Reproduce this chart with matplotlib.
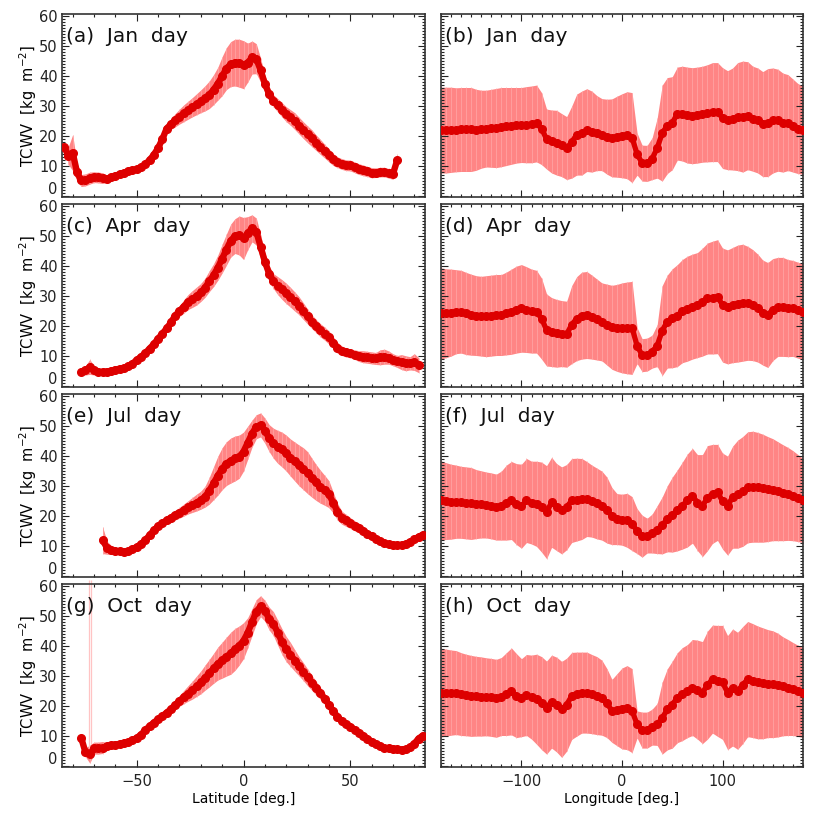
import numpy as np
import matplotlib
matplotlib.use("Agg")
import matplotlib.pyplot as plt
from matplotlib.ticker import MultipleLocator

nan = np.nan

# ---------------- data ----------------
lat = np.arange(-84, 85, 2)          # 85 points
lon = np.arange(-180, 181, 5)        # 73 points
ytick_values = [0, 10, 20, 30, 40, 50, 60]

jan_lat_mean = [16.4, 13.5, 14.5, 8.0, 5.2, 5.4, 6.0, 6.3, 6.2, 6.0,
                5.7, 6.2, 6.8, 7.3, 7.8, 8.2, 8.6, 8.9, 9.6, 10.6,
                12.0, 13.8, 16.0, 19.0, 22.5, 24.0, 25.3, 26.5, 27.6, 28.6,
                29.6, 30.6, 31.6, 32.6, 33.8, 35.5, 37.5, 40.0, 42.5, 44.0,
                44.5, 44.3, 43.8, 44.5, 46.2, 45.8, 42.0, 37.5, 34.0, 31.8,
                30.3, 28.8, 27.3, 26.2, 25.0, 23.5, 22.0, 20.6, 19.3, 17.8,
                16.4, 15.0, 13.6, 12.2, 11.3, 10.7, 10.3, 10.2, 9.6, 9.0,
                8.6, 8.2, 7.8, 7.8, 8.0, 8.0, 7.6, 7.4, 12.0, nan,
                nan, nan, nan, nan, nan]
jan_lat_std = [0.5, 3.0, 6.0, 3.0, 2.0, 2.0, 2.0, 1.8, 1.8, 1.8,
               1.2, 1.0, 0.8, 0.7, 0.7, 0.7, 0.7, 0.8, 0.8, 0.8,
               0.8, 0.9, 1.0, 1.2, 1.5, 1.8, 2.2, 2.5, 2.8, 3.0,
               3.2, 3.5, 3.8, 4.2, 4.6, 5.0, 5.5, 6.5, 7.0, 7.5,
               7.8, 8.0, 8.0, 6.5, 5.5, 5.0, 4.0, 2.8, 2.2, 2.0,
               2.2, 2.4, 2.5, 2.6, 2.8, 2.8, 2.8, 2.8, 2.8, 2.6,
               2.5, 2.3, 2.2, 2.0, 1.8, 1.8, 1.8, 1.8, 1.8, 1.8,
               1.8, 1.7, 1.7, 1.6, 1.6, 1.6, 1.6, 1.8, 2.0, nan,
               nan, nan, nan, nan, nan]

apr_lat_mean = [nan, nan, nan, nan, 4.8, 5.2, 6.4, 5.2, 4.8, 4.7,
                4.8, 5.1, 5.5, 5.8, 6.1, 6.6, 7.5, 8.7, 9.8, 11.0,
                12.5, 14.0, 15.8, 17.5, 19.2, 21.2, 23.5, 25.0, 26.5, 28.0,
                29.0, 30.0, 31.2, 32.8, 35.0, 37.0, 39.5, 42.5, 45.5, 48.5,
                50.0, 50.2, 49.2, 51.0, 52.6, 51.5, 46.5, 41.5, 37.5, 35.0,
                33.5, 32.2, 30.9, 29.6, 28.2, 26.8, 25.0, 23.2, 21.5, 20.0,
                18.6, 17.5, 16.2, 14.5, 12.8, 11.8, 11.2, 10.9, 10.5, 10.0,
                9.8, 9.6, 9.4, 9.2, 9.6, 9.8, 9.5, 8.8, 8.2, 8.0,
                7.6, 7.6, 8.0, 7.0, nan]
apr_lat_std = [nan, nan, nan, nan, 1.0, 1.5, 2.5, 1.5, 1.0, 0.8,
               0.7, 0.6, 0.6, 0.6, 0.6, 0.6, 0.6, 0.7, 0.7, 0.8,
               0.8, 0.9, 1.0, 1.1, 1.2, 1.3, 1.5, 1.8, 2.2, 2.5,
               2.8, 3.0, 3.0, 3.2, 3.5, 3.8, 4.2, 4.8, 5.2, 5.5,
               5.8, 6.5, 7.0, 5.5, 4.5, 4.5, 4.0, 3.0, 2.6, 2.5,
               3.0, 3.3, 3.4, 3.3, 3.2, 3.0, 2.8, 2.5, 2.3, 2.2,
               2.2, 2.2, 2.2, 2.0, 1.8, 1.6, 1.5, 1.5, 1.6, 1.8,
               2.0, 2.0, 2.0, 2.0, 2.5, 2.5, 2.2, 2.0, 2.0, 2.5,
               2.5, 2.2, 2.8, 2.5, nan]

jul_lat_mean = [nan, nan, nan, nan, nan, nan, nan, nan, nan, 12.0,
                9.5, 8.7, 8.3, 8.2, 8.1, 8.4, 9.0, 9.7, 10.7, 12.0,
                13.6, 15.3, 16.6, 17.7, 18.6, 19.5, 20.3, 21.1, 22.0, 22.9,
                23.7, 24.5, 25.3, 26.5, 28.5, 31.0, 33.5, 35.8, 37.5, 38.5,
                39.2, 39.8, 41.5, 44.5, 47.5, 49.8, 50.4, 48.5, 46.0, 44.3,
                43.1, 42.2, 41.0, 39.5, 38.2, 36.9, 35.8, 34.5, 32.8, 31.2,
                29.8, 28.6, 27.3, 24.5, 21.5, 19.5, 18.6, 17.7, 16.8, 16.0,
                15.1, 14.1, 13.3, 12.5, 11.7, 11.0, 10.6, 10.4, 10.3, 10.4,
                10.8, 11.4, 12.2, 13.1, 13.8]
jul_lat_std = [nan, nan, nan, nan, nan, nan, nan, nan, nan, 4.5,
               2.2, 1.5, 1.2, 1.0, 1.0, 0.9, 0.9, 0.9, 1.0, 1.0,
               1.0, 1.0, 1.1, 1.2, 1.3, 1.5, 1.6, 1.8, 2.0, 2.2,
               2.5, 2.8, 3.0, 3.5, 4.5, 5.5, 6.5, 7.0, 7.3, 7.5,
               7.5, 7.2, 6.5, 5.5, 4.5, 4.0, 4.0, 4.2, 4.5, 5.0,
               5.5, 5.8, 6.0, 6.2, 6.5, 6.8, 7.0, 7.0, 6.5, 6.0,
               5.5, 5.0, 4.5, 3.5, 2.8, 2.2, 2.0, 1.8, 1.7, 1.6,
               1.5, 1.5, 1.4, 1.3, 1.2, 1.2, 1.1, 1.0, 1.0, 1.0,
               1.0, 1.1, 1.2, 1.3, 1.4]

oct_lat_mean = [nan, nan, nan, nan, 9.4, 4.6, 4.0, 6.0, 6.0, 6.2,
                6.6, 6.9, 7.2, 7.4, 7.7, 8.0, 8.6, 9.4, 10.5, 12.0,
                13.3, 14.5, 15.6, 16.7, 17.8, 19.0, 20.4, 21.7, 23.0, 24.2,
                25.3, 26.6, 27.9, 29.5, 31.0, 32.6, 34.2, 35.3, 36.5, 37.6,
                38.9, 40.2, 41.8, 44.5, 48.0, 51.5, 53.3, 51.8, 49.2, 47.5,
                44.5, 41.5, 39.0, 37.2, 35.2, 33.3, 31.5, 29.6, 27.8, 26.0,
                24.3, 22.5, 20.5, 18.3, 16.5, 15.0, 14.0, 13.2, 12.2, 11.2,
                10.2, 9.2, 8.2, 7.3, 6.6, 6.1, 5.9, 5.8, 5.6, 5.5,
                5.6, 6.3, 7.5, 9.2, 10.2]
oct_lat_std = [nan, nan, nan, nan, 0.5, 1.5, 3.0, 2.0, 2.0, 2.0,
               1.2, 0.8, 0.7, 0.6, 0.6, 0.6, 0.6, 0.7, 0.8, 0.9,
               1.0, 1.0, 1.0, 1.0, 1.1, 1.2, 1.5, 1.8, 2.2, 2.6,
               3.0, 3.4, 3.8, 4.2, 4.6, 5.0, 5.5, 6.0, 6.5, 7.0,
               7.0, 6.5, 6.0, 5.0, 4.5, 4.0, 3.5, 3.5, 3.8, 4.0,
               4.2, 4.3, 4.2, 4.0, 3.6, 3.2, 3.0, 2.8, 2.5, 2.3,
               2.0, 1.8, 1.7, 1.6, 1.5, 1.5, 1.4, 1.3, 1.2, 1.1,
               1.0, 1.0, 1.0, 1.0, 0.9, 0.9, 0.9, 0.9, 0.9, 0.9,
               0.9, 1.0, 1.2, 1.4, 1.5]
oct_spike_lat = [-72.4, -71.3]
oct_spike_lo = [3.0, 3.0]
oct_spike_hi = [62.0, 62.0]

jan_lon_mean = [22.0, 22.0, 22.1, 22.1, 22.2, 22.2, 22.2, 22.1, 22.3, 22.5,
                22.6, 22.7, 23.0, 23.2, 23.4, 23.6, 23.7, 23.8, 23.9, 24.2,
                22.5, 19.0, 18.2, 17.8, 17.0, 16.0, 18.0, 20.5, 21.0, 22.0,
                21.5, 21.0, 20.5, 19.8, 19.4, 19.8, 20.1, 20.3, 19.5, 14.0,
                11.0, 10.9, 12.5, 16.0, 21.0, 23.5, 24.3, 27.5, 27.5, 27.0,
                26.8, 27.0, 27.3, 27.6, 28.0, 28.0, 26.0, 25.3, 25.7, 26.5,
                26.5, 26.8, 25.8, 25.2, 24.0, 24.5, 25.2, 25.3, 24.5, 24.5,
                23.5, 22.5, 22.0]
jan_lon_std = [14.3, 14.3, 14.2, 14.0, 14.0, 14.0, 14.0, 13.5, 13.0, 12.8,
               13.0, 13.2, 13.2, 13.0, 12.8, 12.6, 12.5, 12.7, 12.8, 12.8,
               12.0, 10.0, 10.5, 10.8, 10.5, 10.5, 12.0, 13.5, 14.0, 13.8,
               13.5, 12.5, 12.0, 12.5, 13.0, 13.5, 14.0, 14.5, 15.0, 7.0,
               6.0, 6.0, 7.0, 10.0, 16.0, 16.0, 15.5, 15.5, 15.8, 16.0,
               16.0, 16.0, 16.0, 16.2, 16.5, 16.5, 16.8, 16.5, 17.0, 18.0,
               18.5, 18.0, 17.5, 17.5, 17.5, 18.0, 17.5, 17.0, 16.5, 16.0,
               15.5, 15.0, 14.7]

apr_lon_mean = [24.2, 24.3, 24.5, 24.8, 24.8, 24.2, 23.8, 23.5, 23.3, 23.3,
                23.5, 23.7, 23.7, 24.2, 24.8, 25.5, 25.9, 25.5, 25.0, 24.8,
                22.5, 18.7, 18.0, 17.6, 17.5, 17.3, 20.5, 22.5, 23.5, 23.7,
                23.0, 22.2, 21.4, 20.5, 19.6, 19.4, 19.4, 19.4, 19.4, 13.5,
                10.3, 10.5, 11.5, 13.5, 18.5, 21.5, 22.6, 23.5, 25.0, 25.8,
                26.5, 27.0, 28.0, 29.2, 29.5, 29.8, 27.0, 26.4, 27.0, 27.5,
                27.8, 27.6, 27.0, 26.0, 24.5, 23.7, 25.5, 26.4, 26.4, 26.0,
                25.9, 25.3, 24.8]
apr_lon_std = [15.2, 14.8, 14.5, 14.0, 13.8, 13.7, 13.5, 13.3, 13.3, 13.5,
               13.5, 13.5, 13.5, 13.8, 14.2, 14.5, 14.6, 14.3, 14.0, 13.8,
               13.5, 12.0, 11.5, 11.3, 11.0, 11.0, 13.0, 14.0, 14.5, 14.5,
               14.0, 13.5, 13.0, 13.5, 14.0, 14.5, 15.0, 15.3, 15.5, 6.0,
               5.5, 5.5, 5.5, 7.0, 15.0, 15.5, 16.5, 17.0, 17.2, 17.5,
               17.5, 17.5, 18.0, 18.5, 18.8, 19.0, 19.0, 19.0, 19.2, 19.5,
               19.5, 19.0, 18.5, 18.0, 17.5, 17.5, 17.0, 16.5, 16.5, 16.2,
               16.0, 16.0, 16.0]

jul_lon_mean = [25.2, 25.0, 24.8, 24.8, 24.6, 24.4, 24.2, 24.0, 23.9, 23.7,
                23.4, 23.0, 23.5, 24.5, 25.2, 24.0, 23.3, 25.2, 24.5, 24.1,
                23.0, 21.3, 24.6, 23.0, 21.9, 23.0, 25.2, 25.5, 25.7, 25.7,
                25.0, 24.2, 23.5, 22.0, 20.0, 19.0, 18.8, 18.6, 17.5, 15.0,
                13.3, 13.5, 14.2, 15.5, 16.9, 19.1, 20.5, 21.9, 23.5, 25.2,
                26.8, 24.5, 23.5, 26.0, 27.4, 27.9, 25.0, 23.5, 26.3, 27.3,
                28.2, 29.6, 29.8, 29.6, 29.3, 29.0, 28.8, 28.3, 27.8, 27.4,
                26.8, 26.0, 25.2]
jul_lon_std = [13.2, 12.8, 12.5, 12.2, 12.0, 12.0, 12.0, 11.5, 11.2, 11.0,
               11.0, 11.0, 11.5, 12.5, 13.0, 13.5, 14.0, 14.0, 13.8, 14.2,
               15.0, 15.5, 15.0, 14.5, 14.5, 14.2, 14.0, 13.8, 13.5, 12.5,
               12.0, 11.8, 11.5, 11.0, 9.5, 8.5, 8.5, 9.0, 9.0, 7.5,
               7.0, 5.8, 6.5, 8.0, 9.5, 11.0, 12.5, 13.5, 14.5, 15.5,
               15.8, 16.0, 17.0, 17.5, 16.5, 16.0, 16.0, 16.5, 17.0, 18.0,
               18.3, 18.5, 18.5, 18.3, 18.0, 17.5, 17.0, 16.5, 16.0, 15.5,
               15.0, 14.5, 14.0]

oct_lon_mean = [24.5, 24.5, 24.5, 24.5, 24.0, 23.7, 23.4, 23.3, 23.2, 23.1,
                22.9, 22.6, 23.2, 24.0, 24.9, 23.5, 22.8, 23.7, 23.0, 22.3,
                21.0, 19.5, 21.5, 20.5, 18.9, 20.5, 23.4, 24.0, 24.5, 24.5,
                24.0, 23.5, 22.8, 21.0, 18.4, 18.8, 19.2, 19.5, 18.5, 13.9,
                12.0, 12.0, 13.0, 13.9, 16.0, 18.9, 20.5, 22.8, 24.0, 25.0,
                26.2, 25.5, 24.5, 27.0, 29.0, 28.4, 27.9, 24.5, 26.2, 25.1,
                27.0, 29.0, 28.5, 27.9, 27.6, 27.5, 27.3, 27.0, 26.6, 26.2,
                25.7, 25.1, 24.5]
oct_lon_std = [14.8, 14.5, 14.2, 14.0, 13.8, 13.6, 13.5, 13.3, 13.2, 13.0,
               13.0, 13.0, 13.0, 13.8, 14.5, 14.0, 13.0, 13.5, 14.0, 15.0,
               15.5, 15.5, 15.5, 15.8, 16.0, 15.5, 14.5, 14.0, 13.5, 13.5,
               13.2, 13.0, 12.5, 11.5, 10.5, 12.0, 13.5, 14.0, 14.0, 4.5,
               6.0, 6.0, 6.0, 7.0, 12.0, 13.5, 14.5, 15.0, 15.5, 15.5,
               16.0, 16.5, 17.0, 18.0, 18.0, 18.5, 19.0, 19.0, 19.5, 19.5,
               19.5, 19.2, 19.0, 18.8, 18.5, 18.0, 17.8, 17.3, 16.5, 16.0,
               15.5, 15.2, 15.0]

months = ["Jan", "Apr", "Jul", "Oct"]
lat_means = [jan_lat_mean, apr_lat_mean, jul_lat_mean, oct_lat_mean]
lat_stds = [jan_lat_std, apr_lat_std, jul_lat_std, oct_lat_std]
lon_means = [jan_lon_mean, apr_lon_mean, jul_lon_mean, oct_lon_mean]
lon_stds = [jan_lon_std, apr_lon_std, jul_lon_std, oct_lon_std]
letters = ["a", "b", "c", "d", "e", "f", "g", "h"]

# ---------------- style ----------------
BAND = "#ff8585"
STRIPE = "#ffa8a8"
SPIKE = "#ffc4c4"
MEAN = "#dd0000"
TICKFS = 10.5

W, H = 823, 822
fig = plt.figure(figsize=(W / 100, H / 100), dpi=100)
plt.rcParams['font.family'] = ['DejaVu Sans']

col_x = [62, 441]
col_w = [363, 362]
row_top = [14, 204, 394, 584]
row_h = 183


def style_axis(ax, xmajor, xminor, show_xlabels, show_ylabels):
    ax.set_ylim(-0.3, 60.7)
    ax.set_yticks(ytick_values)
    ax.yaxis.set_minor_locator(MultipleLocator(1))
    ax.xaxis.set_major_locator(MultipleLocator(xmajor))
    ax.xaxis.set_minor_locator(MultipleLocator(xminor))
    ax.tick_params(which='both', direction='in', top=True, right=True,
                   labelsize=TICKFS, width=0.8, colors='#222222')
    ax.tick_params(which='major', length=5)
    ax.tick_params(which='minor', length=2.5)
    ax.tick_params(axis='x', labelbottom=show_xlabels, pad=5)
    ax.tick_params(axis='y', labelleft=show_ylabels, pad=3)
    if show_ylabels:
        # the lowest label sits slightly above the axis line, as in the original
        ax.set_yticklabels([""] + [str(v) for v in ytick_values[1:]])
        ax.annotate(str(ytick_values[0]), xy=(0, ytick_values[0]),
                    xycoords=ax.get_yaxis_transform(), xytext=(-3, 4.5),
                    textcoords='offset points', ha='right', va='center',
                    fontsize=TICKFS, color='#222222')
    for s in ax.spines.values():
        s.set_linewidth(1.2)
        s.set_color('#333333')


for r in range(4):
    for c in range(2):
        x0 = col_x[c] / W
        y0 = 1 - (row_top[r] + row_h) / H
        ax = fig.add_axes([x0, y0, col_w[c] / W, row_h / H])
        if c == 0:
            x = lat
            m = np.array(lat_means[r], dtype=float)
            s = np.array(lat_stds[r], dtype=float)
        else:
            x = lon
            m = np.array(lon_means[r], dtype=float)
            s = np.array(lon_stds[r], dtype=float)
        lo, hi = m - s, m + s
        ax.fill_between(x, lo, hi, color=BAND, lw=0, zorder=1)
        ok = ~np.isnan(m)
        ax.vlines(x[ok], lo[ok], hi[ok], color=STRIPE, lw=0.5, zorder=1.5)
        if c == 0 and r == 3:
            ax.vlines(oct_spike_lat, oct_spike_lo, oct_spike_hi,
                      color=SPIKE, lw=0.9, zorder=1.5, clip_on=False)
        if c == 0:
            ax.plot(x, m, color=MEAN, lw=4.6, marker='o', ms=5.5,
                    mec=MEAN, mfc=MEAN, zorder=3, solid_capstyle='round')
        else:
            ax.plot(x, m, color=MEAN, lw=3.8, marker='o', ms=5.5,
                    mec=MEAN, mfc=MEAN, zorder=3, solid_capstyle='round')
        if c == 0:
            ax.set_xlim(-85, 85)
            style_axis(ax, 50, 10, r == 3, True)
            ax.set_ylabel("TCWV  [kg  m$^{-2}$]", fontsize=10.5, labelpad=0)
            if r == 3:
                ax.set_xlabel("Latitude [deg.]", fontsize=10, labelpad=2)
        else:
            ax.set_xlim(-180, 180)
            style_axis(ax, 100, 10, r == 3, False)
            if r == 3:
                ax.set_xlabel("Longitude [deg.]", fontsize=10, labelpad=2)
        ax.text(0.012, 0.93, f"({letters[2 * r + c]})  {months[r]}  day",
                transform=ax.transAxes, ha='left', va='top', fontsize=14.5,
                color='#111111', zorder=5)

fig.savefig("out.png", dpi=100)
